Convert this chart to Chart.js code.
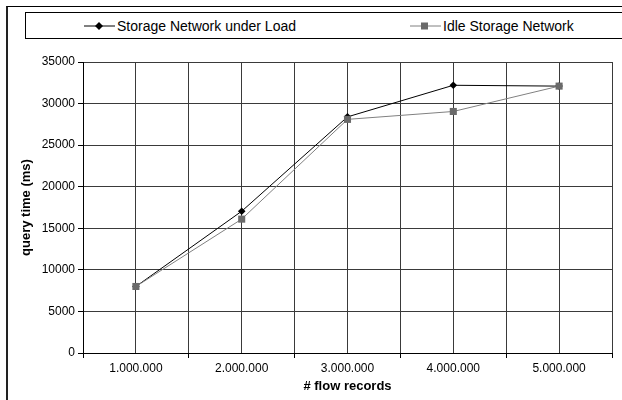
<!DOCTYPE html>
<html>
<head>
<meta charset="utf-8">
<script src="https://cdn.jsdelivr.net/npm/chart.js@4/dist/chart.umd.min.js"></script>
<style>
  html, body { margin: 0; padding: 0; background: #fff; }
  #wrap { position: relative; width: 622px; height: 400px; overflow: hidden; font-family: "Liberation Sans", Arial, sans-serif; }
  #frame { position: absolute; left: 6px; top: 6px; width: 700px; height: 500px; border-left: 2px solid #222; border-top: 1px solid #000; }
  #legend { position: absolute; left: 25px; top: 12px; width: 700px; height: 25px; border: 1px solid #000; }
  .item { position: absolute; top: 0; height: 25px; display: flex; align-items: center; font-size: 14px; color: #000; white-space: nowrap; }
  .item svg { margin-right: 2px; }
  canvas { position: absolute; left: 0; top: 0; }
</style>
</head>
<body>
<div id="wrap">
  <div id="frame"></div>
  <div id="legend"></div>
  <canvas id="c" width="622" height="400"></canvas>
</div>
<script>
// Query time for growing numbers of flow records
const categories = ['1.000.000', '2.000.000', '3.000.000', '4.000.000', '5.000.000'];
const seriesNames = ['Storage Network under Load', 'Idle Storage Network'];
const loadTimes = [8000, 17050, 28400, 32200, 32100];
const idleTimes = [8000, 16100, 28100, 29050, 32100];
const yMin = 0, yMax = 35000, yStep = 5000;

const FONT = '"Liberation Sans", Arial, sans-serif';
const GRID = '#3a3a3a';

// Legend row: line sample with marker, then the series name
const legendItems = [
  { name: seriesNames[0], x: 58, line: '#000', marker: 'diamond', fill: '#000' },
  { name: seriesNames[1], x: 384, line: '#808080', marker: 'square', fill: '#6a6a6a' }
];
const legend = document.getElementById('legend');
legendItems.forEach(it => {
  const d = document.createElement('div');
  d.className = 'item';
  d.style.left = it.x + 'px';
  const m = it.marker === 'diamond'
    ? '<polygon points="15,9 19,13 15,17 11,13" fill="' + it.fill + '"/>'
    : '<rect x="11" y="9.5" width="7" height="7" fill="' + it.fill + '"/>';
  d.innerHTML = '<svg width="31" height="26" viewBox="0 0 31 26"><line x1="0" y1="13" x2="31" y2="13" stroke="' + it.line + '" stroke-width="1"/>' + m + '</svg>';
  const t = document.createElement('span');
  t.textContent = it.name;
  d.appendChild(t);
  legend.appendChild(d);
});

new Chart(document.getElementById('c'), {
  type: 'line',
  data: {
    labels: categories,
    datasets: [
      {
        label: seriesNames[0],
        data: loadTimes,
        borderColor: '#000',
        backgroundColor: '#000',
        borderWidth: 1,
        pointStyle: 'rectRot',
        pointRadius: 3.8,
        pointBorderWidth: 0,
        tension: 0,
        order: 1
      },
      {
        label: seriesNames[1],
        data: idleTimes,
        borderColor: '#808080',
        backgroundColor: '#6a6a6a',
        borderWidth: 1,
        pointStyle: 'rect',
        pointRadius: 5,
        pointBorderWidth: 0,
        tension: 0,
        order: 0
      }
    ]
  },
  options: {
    responsive: false,
    animation: false,
    devicePixelRatio: 1,
    layout: { padding: { left: 0, top: 62, right: 10, bottom: 0 } },
    plugins: { legend: { display: false }, tooltip: { enabled: false } },
    scales: {
      x: {
        type: 'category',
        offset: true,
        grid: { offset: true, color: GRID, lineWidth: 1, tickLength: 5, tickColor: '#000' },
        border: { color: '#000', width: 1 },
        ticks: { color: '#000', font: { family: FONT, size: 12 }, padding: 3, maxRotation: 0 },
        title: { display: true, text: '# flow records', color: '#000', font: { family: FONT, size: 13, weight: 'bold' }, padding: { top: 0, bottom: 6 } },
        afterFit: s => { s.height = 47; }
      },
      xMid: {
        type: 'category',
        position: 'top',
        offset: true,
        grid: { offset: false, color: GRID, lineWidth: 1, drawTicks: false },
        border: { display: false },
        ticks: { display: false },
        afterFit: s => { s.height = 0; }
      },
      y: {
        min: yMin,
        max: yMax,
        grid: { color: GRID, lineWidth: 1, tickLength: 5, tickColor: '#000' },
        border: { color: '#000', width: 1 },
        ticks: { stepSize: yStep, color: '#000', font: { family: FONT, size: 12 }, padding: 3, callback: v => String(v) },
        title: { display: true, text: 'query time (ms)', color: '#000', font: { family: FONT, size: 13, weight: 'bold' }, padding: { top: 19, bottom: 0 } },
        afterFit: s => { s.width = 83; }
      }
    }
  }
});
</script>
</body>
</html>
